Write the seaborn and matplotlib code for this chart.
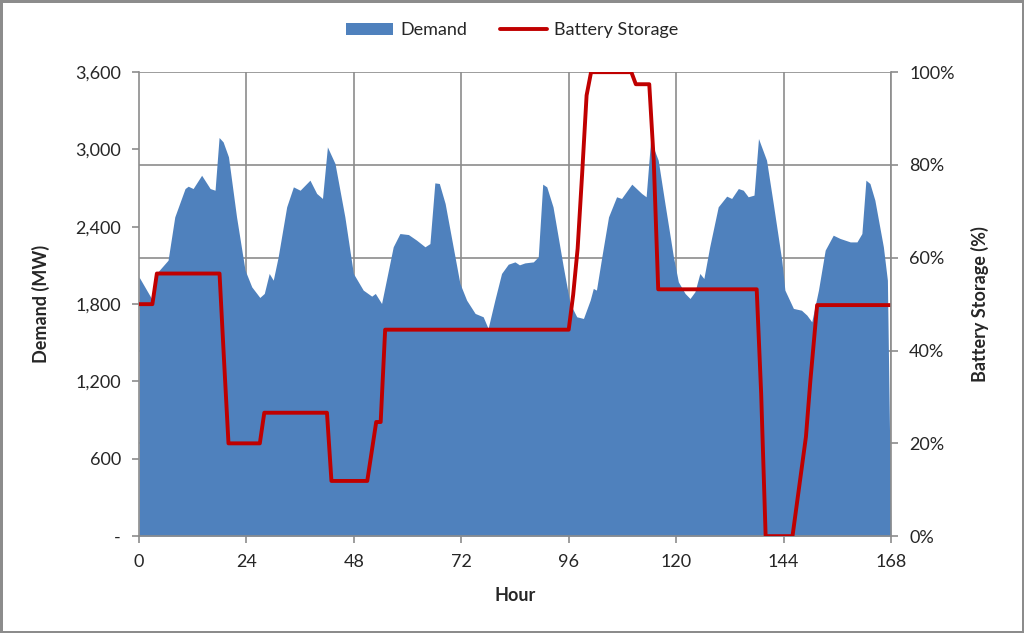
import numpy as np
import pandas as pd
import matplotlib
matplotlib.use('Agg')
import matplotlib.pyplot as plt
from matplotlib.ticker import FuncFormatter, PercentFormatter
import seaborn as sns

# Demand curve (hour, MW)
demand_hours = [0, 2.8, 3.9, 6.5, 8.0, 10.3, 11.0, 12.1, 14.0, 15.9, 17.0, 17.9, 18.8, 20.0, 21.8, 23.7,
                25.2, 27.0, 28.0, 29.1, 30.0, 31.1, 33.0, 34.5, 36.0, 38.2, 39.7, 41.0, 42.1, 43.8, 46.0, 47.9,
                50.1, 52.0, 52.8, 54.2, 56.8, 58.3, 60.2, 62.0, 63.9, 65.0, 66.1, 67.1, 68.4, 71.7,
                73.2, 75.1, 76.9, 78.0, 79.5, 81.0, 82.5, 84.0, 85.0, 86.2, 88.1, 89.2, 90.2, 91.1, 92.5, 94.8,
                96.3, 97.8, 99.3, 100.8, 101.5, 102.2, 103.4, 104.9, 106.7, 107.8, 110.1, 112.3, 113.3, 114.3,
                116.0, 117.5, 119.4, 120.5, 122.0, 123.1, 124.2, 125.3, 126.2, 127.5, 129.4, 131.3, 132.4,
                133.9, 135.0, 136.1, 137.4, 138.4, 140.2, 141.7, 143.6, 144.3, 146.2, 148.0, 149.2, 150.3,
                151.8, 153.3, 155.1, 156.6, 158.9, 160.4, 161.5, 162.4, 163.3, 164.4, 166.3, 167.2, 168]
demand_mw = [2012, 1844, 2038, 2141, 2477, 2697, 2715, 2697, 2800, 2697, 2684, 3093, 3059, 2943, 2477, 2064,
             1934, 1852, 1883, 2038, 1986, 2167, 2555, 2710, 2684, 2762, 2659, 2620, 3020, 2891, 2477, 2038,
             1909, 1862, 1883, 1805, 2245, 2348, 2340, 2297, 2245, 2270, 2741, 2736, 2581, 1961,
             1831, 1728, 1702, 1612, 1831, 2038, 2110, 2128, 2105, 2120, 2128, 2167, 2731, 2710, 2555, 2090,
             1805, 1702, 1689, 1831, 1922, 1909, 2167, 2477, 2633, 2620, 2731, 2659, 2633, 3072,
             2917, 2581, 2167, 1973, 1883, 1844, 1896, 2038, 1999, 2245, 2555, 2638, 2620,
             2697, 2684, 2633, 2646, 3085, 2917, 2581, 2141, 1909, 1767, 1753, 1715, 1663,
             1909, 2219, 2335, 2310, 2283, 2283, 2348, 2762, 2736, 2607, 2245, 1986, 0]

# Battery state of charge (hour, %)
battery_hours = [0, 3, 4, 18, 19, 20, 27, 28, 42, 43, 51, 53, 54, 55, 96, 97, 98, 99, 100, 101,
                 110, 111, 114, 115, 116, 138, 139, 140, 146, 149, 150, 151.5, 168]
battery_pct = [50, 50, 56.6, 56.6, 38, 20, 20, 26.6, 26.6, 11.9, 11.9, 24.6, 24.6, 44.5, 44.5, 52, 62, 78, 95, 100,
               100, 97.4, 97.4, 81, 53.2, 53.2, 30.7, 0, 0, 21.4, 33.6, 49.8, 49.8]

x_ticks = [0, 24, 48, 72, 96, 120, 144, 168]
left_ticks = [0, 600, 1200, 1800, 2400, 3000, 3600]
right_ticks = [0, 20, 40, 60, 80, 100]

sns.set_style('white')
plt.rcParams['font.family'] = ['Lato', 'DejaVu Sans']

grey = '#8c8c8c'
fig = plt.figure(figsize=(10.24, 6.33), dpi=100)
fig.patch.set_edgecolor(grey)
fig.patch.set_linewidth(2.5)
ax = fig.add_axes([0.1357, 0.153, 0.7344, 0.733])

# gridlines matching the right axis (20% steps) and 24h steps
for v in np.array(right_ticks) / 100 * 3600:
    ax.axhline(v, color=grey, lw=1.2, zorder=0)
for h in x_ticks[1:]:
    ax.axvline(h, color=grey, lw=1.2, zorder=0)

ax.fill_between(demand_hours, demand_mw, 0, color='#4F81BD', lw=0, zorder=2, label='Demand')
ax.set_xlim(0, 168)
ax.set_ylim(0, 3600)
ax.set_xticks(x_ticks)
ax.set_yticks(left_ticks)
ax.yaxis.set_major_formatter(FuncFormatter(lambda v, p: '-' if v == 0 else f'{v:,.0f}'))
ax.set_xlabel('Hour', fontsize=13, fontweight='bold', labelpad=12)
ax.set_ylabel('Demand (MW)', fontsize=13, fontweight='bold', labelpad=18)

ax2 = ax.twinx()
battery = pd.DataFrame({'hour': battery_hours, 'pct': battery_pct})
sns.lineplot(data=battery, x='hour', y='pct', ax=ax2, color='#C00000', lw=2.8, label='Battery Storage',
             legend=False)
ax2.set_ylim(0, 100)
ax2.set_yticks(right_ticks)
ax2.yaxis.set_major_formatter(PercentFormatter(decimals=0))
ax2.set_ylabel('Battery Storage (%)', fontsize=13, fontweight='bold', labelpad=12)
ax2.set_xlabel('')

for a in (ax, ax2):
    for s in a.spines.values():
        s.set_visible(False)
    a.tick_params(direction='out', length=5, width=1.2, color=grey, labelsize=13, pad=8)
ax.spines['left'].set_visible(True)
ax.spines['bottom'].set_visible(True)
ax2.spines['right'].set_visible(True)
for s in (ax.spines['left'], ax.spines['bottom'], ax2.spines['right']):
    s.set_color(grey)
    s.set_linewidth(1.2)
ax.tick_params(axis='y', left=True)
ax.tick_params(axis='x', bottom=True)
ax2.tick_params(axis='y', right=True)

h1, l1 = ax.get_legend_handles_labels()
h2, l2 = ax2.get_legend_handles_labels()
fig.legend(h1 + h2, l1 + l2, loc='center', bbox_to_anchor=(0.5, 0.952), ncol=2, frameon=False,
           fontsize=13, handlelength=2.6, columnspacing=1.8, handletextpad=0.4)

plt.savefig('out.png', dpi=100)
